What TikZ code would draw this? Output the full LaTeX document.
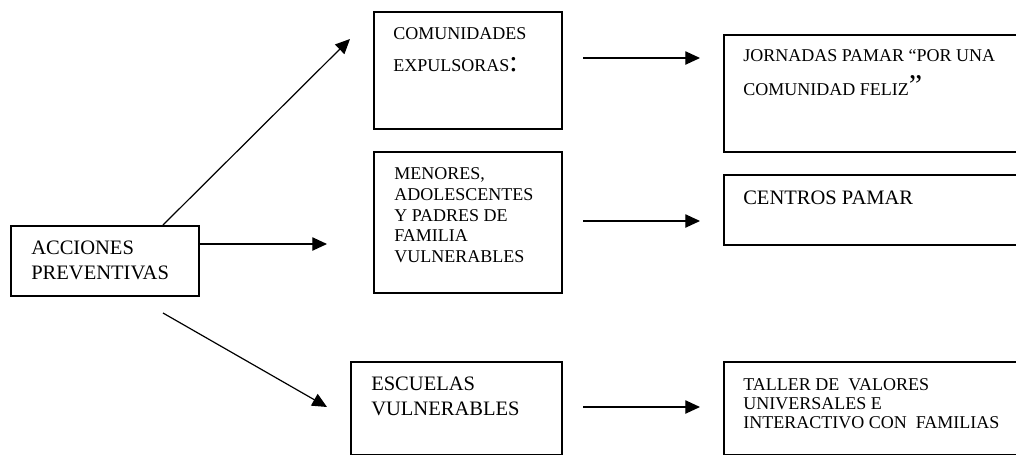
\documentclass[tikz,border=0pt]{standalone}
\usepackage{fontspec}
\setmainfont{Liberation Serif}
\usetikzlibrary{arrows.meta}
\newcommand{\tstrut}{\rule{0pt}{12pt}}
\begin{document}
\begin{tikzpicture}[x=0.75pt,y=-0.75pt,
  box/.style={draw, line width=1.2pt, inner sep=0pt, anchor=north west},
  txt/.style={inner sep=0pt, anchor=north west, align=left},
  small/.style={font=\fontsize{13.5}{15.6}\selectfont},
  large/.style={font=\fontsize{15.4}{18.75}\selectfont},
  arr/.style={line width=0.9pt, -{Triangle[length=11pt,width=10pt]}}]
\useasboundingbox (0,0) rectangle (1016,454);
% boxes
\node[box, minimum width={188*0.75pt}, minimum height={70*0.75pt}]  (acc) at (10,225) {};
\node[box, minimum width={188*0.75pt}, minimum height={117*0.75pt}] (com) at (373,11) {};
\node[box, minimum width={188*0.75pt}, minimum height={141*0.75pt}] (men) at (373,151) {};
\node[box, minimum width={211*0.75pt}, minimum height={93*0.75pt}]  (esc) at (350,361) {};
\node[box, minimum width={297*0.75pt}, minimum height={117*0.75pt}] (jor) at (723,34) {};
\node[box, minimum width={297*0.75pt}, minimum height={70*0.75pt}]  (cen) at (723,174) {};
\node[box, minimum width={297*0.75pt}, minimum height={93*0.75pt}]  (tal) at (723,361) {};
% texts
\node[txt, large] (accT) at (31,238.3) {\tstrut ACCIONES\\PREVENTIVAS};
\node[txt, small, font=\fontsize{13.5}{24}\selectfont] (comT) at (393,23.3)
  {\tstrut COMUNIDADES\\EXPULSORAS{\fontsize{22.5}{22.5}\selectfont :}};
\node[txt, small] (menT) at (394,163.3)
  {\tstrut MENORES,\\ADOLESCENTES\\Y PADRES DE\\FAMILIA\\VULNERABLES};
\node[txt, large, font=\fontsize{15.4}{18.4}\selectfont] (escT) at (371,374.5)
  {\tstrut ESCUELAS\\VULNERABLES};
\node[txt, small, font=\fontsize{13.5}{25}\selectfont] (jorT) at (743,45.7)
  {\tstrut JORNADAS PAMAR “POR UNA\\COMUNIDAD FELIZ{\fontsize{22.5}{22.5}\selectfont ”}};
\node[txt, large] (cenT) at (743,188) {\tstrut CENTROS PAMAR};
\node[txt, small, font=\fontsize{13.5}{14.4}\selectfont] (talT) at (743,374)
  {\tstrut TALLER DE\ \ VALORES\\UNIVERSALES E\\INTERACTIVO CON\ \ FAMILIAS};
% connector end points
\coordinate (a1s) at (163,225);
\coordinate (a1e) at (350,39);
\coordinate (a2s) at (198,244);
\coordinate (a2e) at (327,244);
\coordinate (a3s) at (163,313);
\coordinate (a3e) at (327,407);
\coordinate (r1s) at (583,58);
\coordinate (r1e) at (700,58);
\coordinate (r2s) at (583,221);
\coordinate (r2e) at (700,221);
\coordinate (r3s) at (583,407);
\coordinate (r3e) at (700,407);
% connectors
\draw[arr] (a1s) -- (a1e);
\draw[arr] (a2s) -- (a2e);
\draw[arr] (a3s) -- (a3e);
\draw[arr] (r1s) -- (r1e);
\draw[arr] (r2s) -- (r2e);
\draw[arr] (r3s) -- (r3e);
\end{tikzpicture}
\end{document}
